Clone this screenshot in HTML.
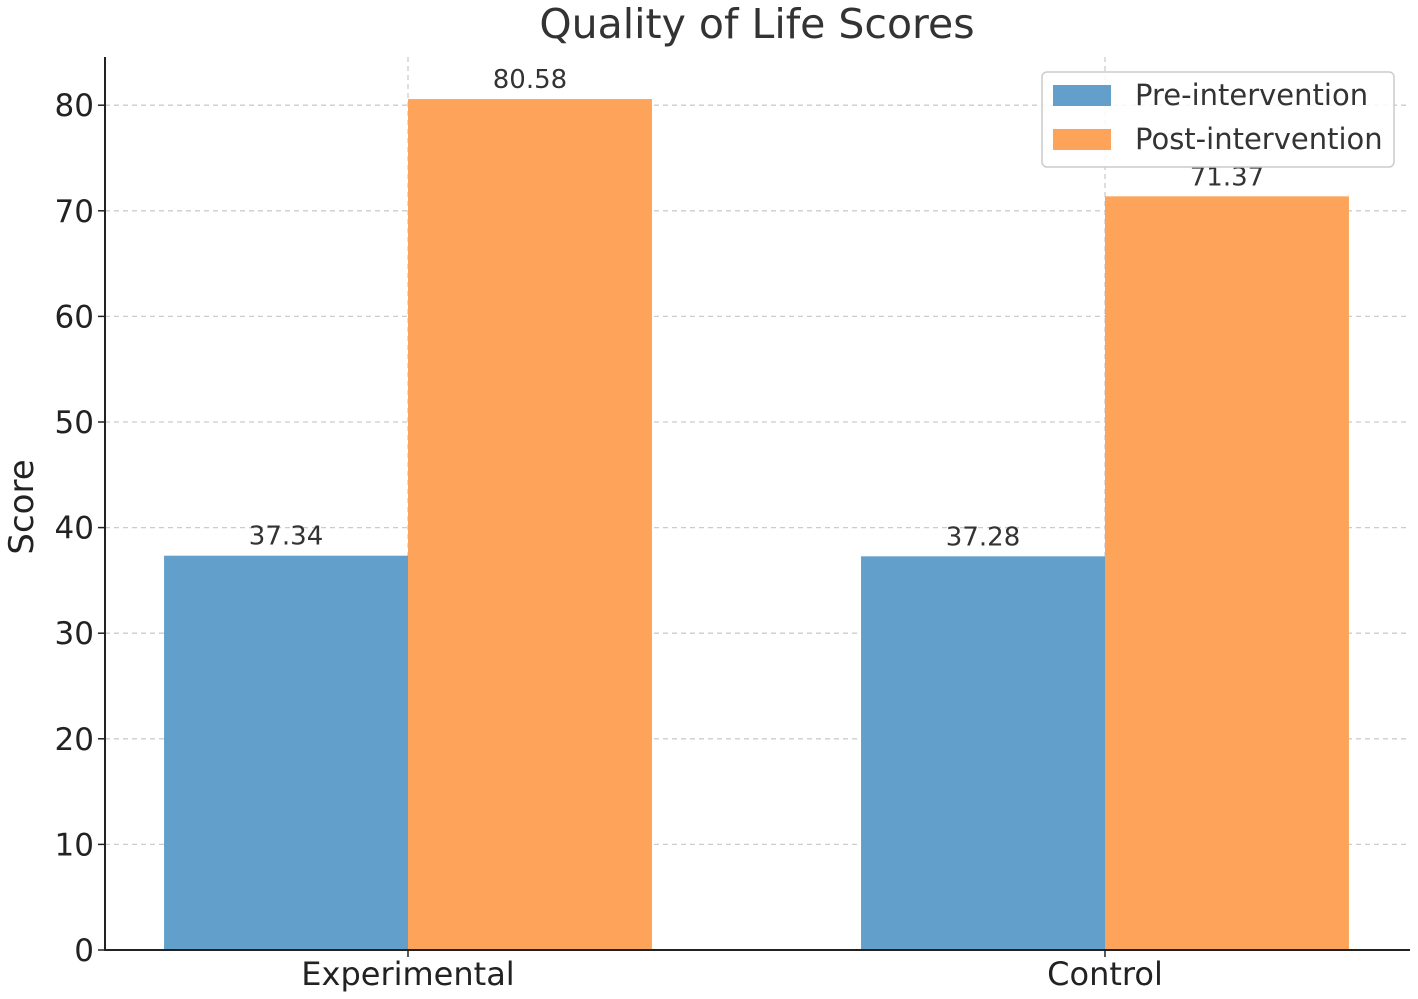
<!DOCTYPE html>
<html><head><meta charset="utf-8"><style>
html,body{margin:0;padding:0;background:#fff}
svg{display:block;font-family:"DejaVu Sans","Liberation Sans",sans-serif}
</style></head><body>
<svg id="chart" width="1418" height="999" viewBox="0 0 1418 999" xmlns="http://www.w3.org/2000/svg">
<text x="757" y="38" font-size="41" text-anchor="middle" fill="#333">Quality of Life Scores</text>
<text transform="translate(33,507) rotate(-90)" font-size="34" text-anchor="middle" fill="#222">Score</text>
<g id="grid"></g><g id="bars"></g><g id="axes"></g>
<g>
<rect x="1042" y="72" width="352" height="95" rx="5" fill="#fff" fill-opacity="0.85" stroke="#ccc" stroke-width="1.5"/>
<rect x="1053" y="85" width="58" height="21" fill="#629fca"/>
<text x="1135" y="105" font-size="29" fill="#333">Pre-intervention</text>
<rect x="1053" y="129" width="58" height="21" fill="#fda35a"/>
<text x="1135" y="149" font-size="29" fill="#333">Post-intervention</text>
</g>
</svg>
<script>
const categories = ["Experimental", "Control"];
const preValues = [37.34, 37.28];
const postValues = [80.58, 71.37];
const yTicks = [0, 10, 20, 30, 40, 50, 60, 70, 80];
const NS = "http://www.w3.org/2000/svg";
const y0 = 950, pxPer = 10.56;
function y(v){ return y0 - v * pxPer; }
function x(c){ return 408 + c * 697; }
const bw = 0.35 * 697;
function mk(tag, attrs, parent){ const e = document.createElementNS(NS, tag); for (const k in attrs) e.setAttribute(k, attrs[k]); parent.appendChild(e); return e; }
const grid = document.getElementById('grid'), bars = document.getElementById('bars'), axes = document.getElementById('axes');
yTicks.forEach(t => {
  if (t > 0) {
    const gl = mk('line', {x1:105, x2:1410, y1:y(t), y2:y(t), stroke:'#ccc', 'stroke-width':1.3, 'stroke-dasharray':'5,4'}, grid);
    
    
  }
  const tk = mk('line', {x1:98, x2:105, y1:y(t), y2:y(t), stroke:'#222', 'stroke-width':1.5}, axes);
  
  
  const tl = mk('text', {x:94, y:y(t)+11, 'font-size':31, 'text-anchor':'end', fill:'#222'}, axes);
  tl.textContent = t;
  
  
});
categories.forEach((c, i) => {
  const gl = mk('line', {x1:x(i), x2:x(i), y1:57, y2:950, stroke:'#ccc', 'stroke-width':1.3, 'stroke-dasharray':'5,4'}, grid);
  
  
  [[preValues[i], x(i)-bw, '#629fca', 'pre'], [postValues[i], x(i), '#fda35a', 'post']].forEach(([v, bx, col, s]) => {
    const r = mk('rect', {x:bx, y:y(v), width:bw, height:y0 - y(v), fill:col}, bars);
    
    
    const lt = mk('text', {x:bx + bw/2, y:y(v) - 11, 'font-size':26, 'text-anchor':'middle', fill:'#333'}, bars);
    lt.textContent = v.toFixed(2);
    
    
  });
  const tk = mk('line', {x1:x(i), x2:x(i), y1:950, y2:957, stroke:'#222', 'stroke-width':1.5}, axes);
  
  
  const tl = mk('text', {x:x(i), y:985, 'font-size':32, 'text-anchor':'middle', fill:'#222'}, axes);
  tl.textContent = c;
  
  
});
const ya = mk('line', {x1:105, x2:105, y1:57, y2:951, stroke:'#222', 'stroke-width':2}, axes);


const xa = mk('line', {x1:104, x2:1410, y1:950, y2:950, stroke:'#222', 'stroke-width':2}, axes);


</script>
</body></html>
